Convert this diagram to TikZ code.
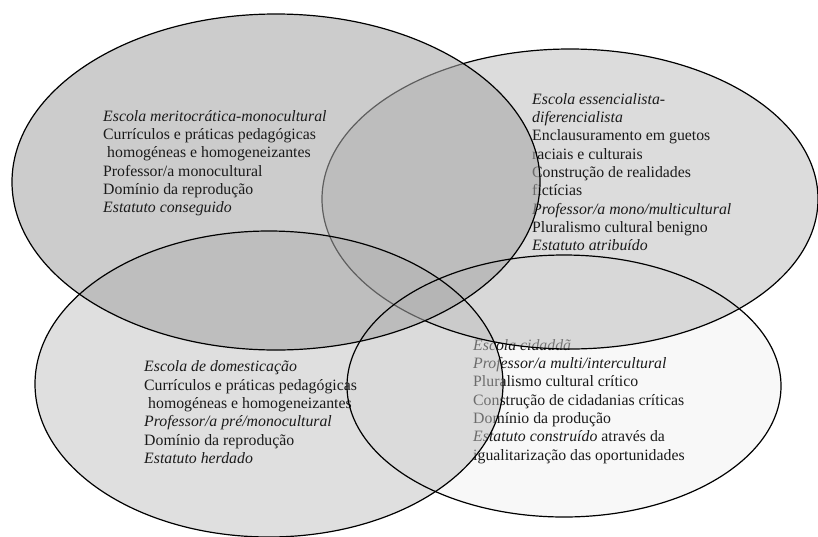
\documentclass[tikz,border=0pt]{standalone}
\usepackage{fontspec}
\setmainfont{Liberation Serif}
\definecolor{fillD}{HTML}{F8F8F8}
\definecolor{fillC}{HTML}{BFBFBF}
\definecolor{fillB}{HTML}{BFBFBF}
\definecolor{fillA}{HTML}{A6A6A6}
\definecolor{inktext}{HTML}{1A1A1A}
\tikzset{
  rim/.style={draw=black, line width=1.2pt},
  blocktext/.style={anchor=north west, inner sep=0pt, align=left, text=inktext,
    font=\fontsize{15.8}{18.3}\selectfont},
}
\newcommand{\firstline}{\rule{0pt}{12pt}}
\begin{document}
\begin{tikzpicture}[x=1pt, y=-1pt]
  \useasboundingbox (0,0) rectangle (818,536);

  % bottom-right set (lowest layer)
  \fill[fillD] (564,386) ellipse [x radius=217pt, y radius=131pt];
  \node[blocktext] (txtD) at (473,338) {\firstline\textit{Escola cidaddã}\\
    \textit{Professor/a multi/intercultural}\\
    Pluralismo cultural crítico\\
    Construção de cidadanias críticas\\
    Domínio da produção\\
    \textit{Estatuto construído} através da\\
    igualitarização das oportunidades};

  % bottom-left set
  \fill[fillC, fill opacity=0.5] (269,384) ellipse [x radius=234pt, y radius=153pt];
  \node[blocktext] (txtC) at (144,359.7) {\firstline\textit{Escola de domesticação}\\
    Currículos e práticas pedagógicas\\
    \hspace*{4pt}homogéneas e homogeneizantes\\
    \textit{Professor/a pré/monocultural}\\
    Domínio da reprodução\\
    \textit{Estatuto herdado}};

  % top-right set
  \fill[fillB, fill opacity=0.55] (570,199) ellipse [x radius=248pt, y radius=150pt];
  \draw[rim] (570,199) ellipse [x radius=248pt, y radius=150pt];
  \node[blocktext] (txtB) at (532,92) {\firstline\textit{Escola essencialista-}\\
    \textit{diferencialista}\\
    Enclausuramento em guetos\\
    raciais e culturais\\
    Construção de realidades\\
    fictícias\\
    \textit{Professor/a mono/multicultural}\\
    Pluralismo cultural benigno\\
    \textit{Estatuto atribuído}};

  % top-left set (topmost fill)
  \fill[fillA, fill opacity=0.57] (276,182) ellipse [x radius=264pt, y radius=168pt];

  % outlines on top
  \draw[rim] (564,386) ellipse [x radius=217pt, y radius=131pt];
  \draw[rim] (269,384) ellipse [x radius=234pt, y radius=153pt];
  \draw[rim] (276,182) ellipse [x radius=264pt, y radius=168pt];

  \node[blocktext] (txtA) at (103,109) {\firstline\textit{Escola meritocrática-monocultural}\\
    Currículos e práticas pedagógicas\\
    \hspace*{4pt}homogéneas e homogeneizantes\\
    Professor/a monocultural\\
    Domínio da reprodução\\
    \textit{Estatuto conseguido}};
\end{tikzpicture}
\end{document}
